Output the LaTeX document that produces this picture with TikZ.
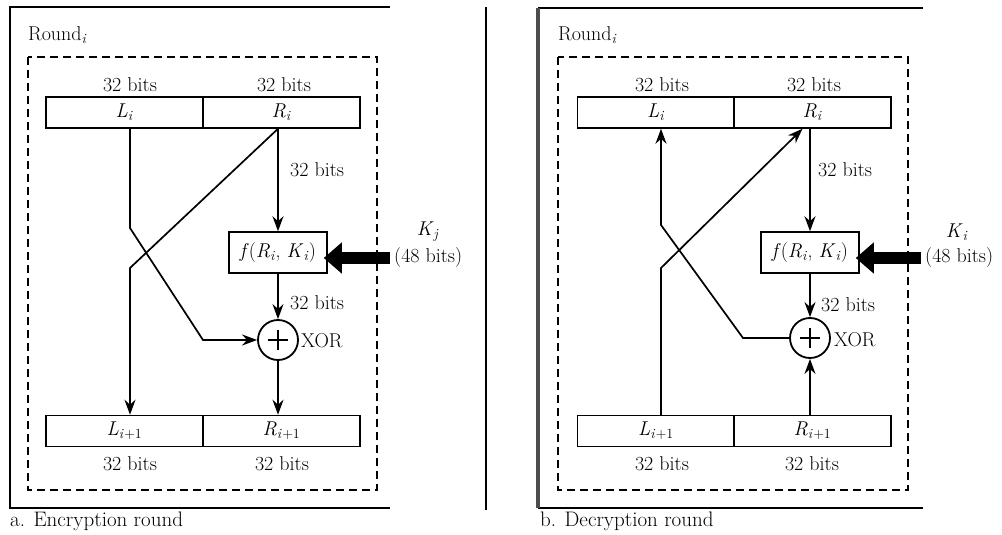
\documentclass[tikz,border=0pt]{standalone}
\usepackage{fontspec}
\usetikzlibrary{arrows.meta,calc}
\newcommand{\mvar}[2]{\textit{#1}\textsubscript{\textit{#2}}}
\begin{document}
\begin{tikzpicture}[x=1pt,y=-1pt,
  txt/.style={font=\fontsize{20}{23}\selectfont, inner sep=0pt},
  cell/.style={draw, line width=1.5pt, minimum width=157pt, minimum height=31pt, inner sep=0pt, font=\fontsize{20}{23}\selectfont},
  fnbox/.style={draw, line width=1.5pt, minimum width=98pt, minimum height=41pt, inner sep=0pt, font=\fontsize{20}{23}\selectfont},
  xor/.style={draw, circle, line width=1.8pt, minimum size=40pt, inner sep=0pt,
    path picture={\draw[line width=1.6pt] ($(path picture bounding box.center)+(-10,0)$) -- ++(20,0)
      ($(path picture bounding box.center)+(0,-10)$) -- ++(0,20);}},
  conn/.style={line width=1.7pt, -{Stealth[length=15pt,width=11pt]}},
  keyarrow/.style={line width=12pt, -{Triangle[length=18pt,width=30pt]}},
  outerline/.style={line width=1.8pt},
  dbox/.style={line width=1.4pt, dash pattern=on 8pt off 5pt},
  captxt/.style={font=\fontsize{21}{24}\selectfont, inner sep=0pt},
]
\useasboundingbox (0,0) rectangle (1002,535);

% ---------- frames ----------
\draw[outerline] (390,7) -- (10,7) -- (10,508) -- (390,508);
\draw[outerline] (486,7) -- (486,510);
\draw[outerline] (538,8) -- (923,8);
\draw[outerline] (538,508) -- (923,508);
\draw[line width=3.5pt, black!70] (538,8) -- (538,508);

% ---------- a. Encryption round ----------
\node[txt, anchor=west] (rdA) at (28,35) {Round\textsubscript{\textit{i}}};
\draw[dbox] (28,57) rectangle (377,490);
\node[txt] (tbLA) at (130,85) {32 bits};
\node[txt] (tbRA) at (284,85) {32 bits};
\node[cell] (LiA) at (124.5,112.5) {\mvar{L}{i}};
\node[cell] (RiA) at (281.5,112.5) {\mvar{R}{i}};
\node[fnbox] (fA) at (278,252.5) {\textit{f}(\mvar{R}{i}, \mvar{K}{i})};
\node[xor] (xA) at (278,340) {};
\node[txt, anchor=west] (xlA) at (301,341) {XOR};
\node[cell] (LnA) at (124.5,431) {\mvar{L}{i}\textsubscript{+1}};
\node[cell] (RnA) at (281.5,431) {\mvar{R}{i}\textsubscript{+1}};
\node[txt] (bbLA) at (130,464) {32 bits};
\node[txt] (bbRA) at (282,464) {32 bits};
\node[txt] (KA) at (428,232) {\mvar{K}{j}};
\node[txt, anchor=west] (kbA) at (394,258) {(48 bits)};
\node[txt, anchor=west] (l1A) at (290,170) {32 bits};
\node[txt, anchor=west] (l2A) at (290,303) {32 bits};
\node[captxt, anchor=west] (capA) at (10,521) {a. Encryption round};

\coordinate (a1) at (130,228);
\coordinate (a2) at (203,340);
\coordinate (b1) at (130,268);
\draw[conn] ([xshift=5.5pt]LiA.south) -- (a1) -- (a2) -- (xA.west);
\draw[conn] ([xshift=-3.5pt]RiA.south) -- (b1) -- (b1 |- LnA.north);
\draw[conn] ([xshift=-3.5pt]RiA.south) -- (fA.north);
\draw[conn] (fA.south) -- (xA.north);
\draw[conn] (xA.south) -- (xA.south |- RnA.north);
\draw[keyarrow] ([xshift=-4pt]kbA.west) -- ([xshift=-4pt]kbA.west -| fA.east);

% ---------- b. Decryption round ----------
\begin{scope}[xshift=531pt]
\node[txt, anchor=west] (rdB) at (27,35) {Round\textsubscript{\textit{i}}};
\draw[dbox] (27,57) rectangle (377,490);
\node[txt] (tbLB) at (131,85) {32 bits};
\node[txt] (tbRB) at (283,85) {32 bits};
\node[cell] (LiB) at (125,112.5) {\mvar{L}{i}};
\node[cell] (RiB) at (281.5,112.5) {\mvar{R}{i}};
\node[fnbox] (fB) at (279,252.5) {\textit{f}(\mvar{R}{i}, \mvar{K}{i})};
\node[xor] (xB) at (279,338) {};
\node[txt, anchor=west] (xlB) at (303,340) {XOR};
\node[cell] (LnB) at (125,431) {\mvar{L}{i}\textsubscript{+1}};
\node[cell] (RnB) at (281.5,431) {\mvar{R}{i}\textsubscript{+1}};
\node[txt] (bbLB) at (131,464) {32 bits};
\node[txt] (bbRB) at (281,464) {32 bits};
\node[txt] (KB) at (426,232) {\mvar{K}{i}};
\node[txt, anchor=west] (kbB) at (394,258) {(48 bits)};
\node[txt, anchor=west] (l1B) at (287,170) {32 bits};
\node[txt, anchor=west] (l2B) at (290,305) {32 bits};
\node[captxt, anchor=west] (capB) at (9,521) {b. Decryption round};

\coordinate (c1) at (130,268);
\coordinate (d1) at (130,225);
\coordinate (d2) at (212,338);
\draw[conn] ([xshift=5pt]LnB.north) -- (c1) -- ([xshift=-10pt]RiB.south);
\draw[conn] (xB.west) -- (d2) -- (d1) -- (d1 |- LiB.south);
\draw[conn] ([xshift=-2.5pt]RiB.south) -- (fB.north);
\draw[conn] (fB.south) -- (xB.north);
\draw[conn] (xB.south |- RnB.north) -- (xB.south);
\draw[keyarrow] ([xshift=-4pt]kbB.west) -- ([xshift=-4pt]kbB.west -| fB.east);
\end{scope}
\end{tikzpicture}
\end{document}
